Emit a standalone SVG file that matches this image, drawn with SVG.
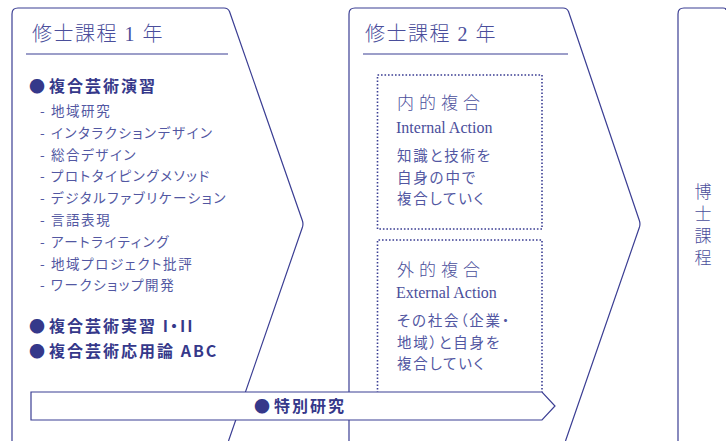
<svg xmlns="http://www.w3.org/2000/svg" width="726" height="441" viewBox="0 0 726 441">
<style>
.pl{fill:none;stroke:#3b3e93;stroke-width:1.2;stroke-linejoin:round}
.dot{fill:none;stroke:#3b3e93;stroke-width:1.6;stroke-dasharray:1.6 1.9}
text{font-family:"Noto Sans CJK JP","Noto Sans",sans-serif;font-feature-settings:"palt"}
.hd{font-family:"Liberation Serif","Noto Sans CJK JP",serif;font-size:20px;fill:#4a4e9b;letter-spacing:1.5px;font-weight:300}
.bd{font-size:16px;font-weight:700;fill:#35388a;letter-spacing:2px}
.it{font-size:13.5px;fill:#5257a2;letter-spacing:1.6px}
.ti{font-size:17px;fill:#4a4e9b;letter-spacing:5px;font-weight:300}
.en{font-family:"Liberation Serif",serif;font-size:16px;fill:#4a4e9b}
.bx{font-size:14.5px;fill:#5257a2;letter-spacing:1.8px}
.vt{font-size:17px;fill:#4a4e9b;font-weight:300;writing-mode:vertical-rl;letter-spacing:5px}
</style>
<g id="connectors">
<line class="pl" x1="26" y1="54" x2="228" y2="54"/>
<line class="pl" x1="363" y1="54" x2="568" y2="54"/>
</g>
<g id="panel1">
<path class="pl" d="M12,441 V14 Q12,8 18,8 H224 Q228,8 229.5,11.5 L302.5,221 Q303.4,224 302.5,227 L228.5,441"/>
<text class="hd" x="32" y="41">修士課程 1 年</text>
<text class="bd" x="29" y="92">●<tspan dx="2">複合芸術演習</tspan></text>
<g class="it">
<text x="40" y="116">- 地域研究</text>
<text x="40" y="137.8">- インタラクションデザイン</text>
<text x="40" y="159.6">- 総合デザイン</text>
<text x="40" y="181.4">- プロトタイピングメソッド</text>
<text x="40" y="203.2">- デジタルファブリケーション</text>
<text x="40" y="225">- 言語表現</text>
<text x="40" y="246.8">- アートライティング</text>
<text x="40" y="268.6">- 地域プロジェクト批評</text>
<text x="40" y="290.4">- ワークショップ開発</text>
</g>
<text class="bd" x="29" y="332">●<tspan dx="2">複合芸術実習 I・II</tspan></text>
<text class="bd" x="29" y="357">●<tspan dx="2">複合芸術応用論 ABC</tspan></text>
</g>
<g id="panel2">
<path class="pl" d="M349,441 V14 Q349,8 355,8 H563 Q567,8 568.5,11.5 L639.5,221 Q640.4,224 639.5,227 L565.5,441"/>
<text class="hd" x="365" y="41">修士課程 2 年</text>
</g>
<g id="internal">
<rect class="dot" x="377.5" y="75" width="164.5" height="154"/>
<text class="ti" x="397" y="109">内的複合</text>
<text class="en" x="396" y="133">Internal Action</text>
<text class="bx" x="397" y="161">知識と技術を</text>
<text class="bx" x="397" y="182.5">自身の中で</text>
<text class="bx" x="397" y="204">複合していく</text>
</g>
<g id="external">
<path class="dot" d="M377.5,400 V240 H542 V400"/>
<text class="ti" x="397" y="276">外的複合</text>
<text class="en" x="396" y="298">External Action</text>
<text class="bx" x="397" y="326">その社会（企業・</text>
<text class="bx" x="397" y="347.5">地域）と自身を</text>
<text class="bx" x="397" y="369">複合していく</text>
</g>
<g id="panel3">
<path class="pl" d="M678,441 V14 Q678,8 684,8 H723 Q726,8 726,10"/>
<text class="vt" x="703" y="183">博士課程</text>
</g>
<g id="special">
<path d="M31,392 H542 L555,406 L542,420 H31 Z" fill="#fff" stroke="#3b3e93" stroke-width="1.2"/>
<text class="bd" x="254" y="412">●<tspan dx="2">特別研究</tspan></text>
</g>
</svg>
